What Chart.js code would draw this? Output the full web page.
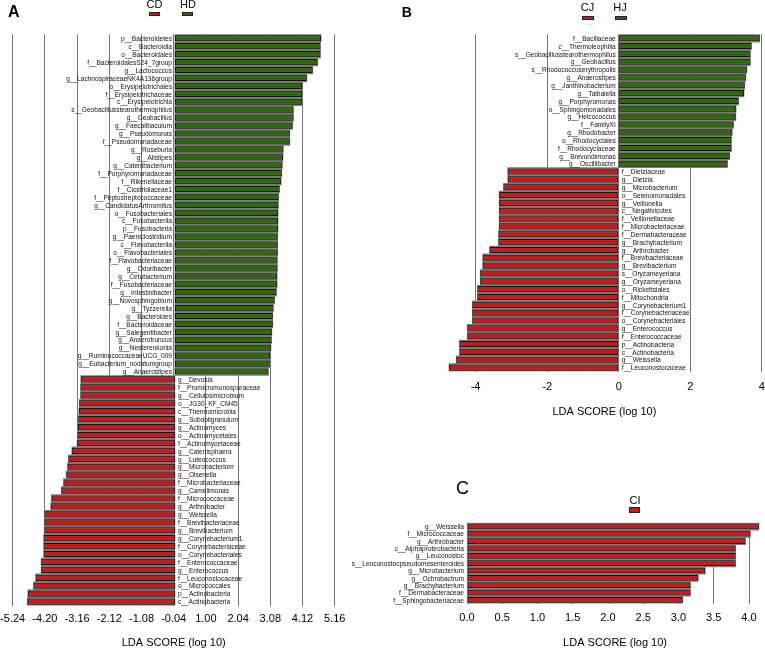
<!DOCTYPE html>
<html><head><meta charset="utf-8">
<script src="https://cdn.jsdelivr.net/npm/chart.js@4.4.1/dist/chart.umd.min.js"></script>
<style>
html,body{margin:0;padding:0;background:#fff;width:765px;height:650px;overflow:hidden;font-family:"Liberation Sans",Arial,sans-serif;}
canvas{position:absolute;}
.t{position:absolute;line-height:1;white-space:nowrap;color:#000;}
.c{text-align:center;width:40px;}
.box{position:absolute;border:1px solid #222;box-sizing:border-box;}
</style></head><body>
<canvas id="cA" width="372" height="650" style="left:0;top:0;width:372px;height:650px"></canvas>
<canvas id="cB" width="385" height="420" style="left:380px;top:0;width:385px;height:420px"></canvas>
<canvas id="cC" width="435" height="180" style="left:330px;top:470px;width:435px;height:180px"></canvas>

<div class="t" style="left:8px;top:3.9px;font-size:16px;font-weight:bold">A</div>
<div class="t c" style="left:134.5px;top:-0.7px;font-size:11px">CD</div>
<div class="box" style="left:149px;top:11.7px;width:10.5px;height:4px;background:#c8191c"></div>
<div class="t c" style="left:168px;top:-0.7px;font-size:11px">HD</div>
<div class="box" style="left:181.7px;top:11.7px;width:11px;height:4px;background:#2f6a0c"></div>

<div class="t" style="left:401.7px;top:4.9px;font-size:14px;font-weight:bold">B</div>
<div class="t c" style="left:567.5px;top:1.9px;font-size:11px">CJ</div>
<div class="box" style="left:582.3px;top:16px;width:11.4px;height:3.6px;background:#c8191c"></div>
<div class="t c" style="left:600px;top:1.9px;font-size:11px">HJ</div>
<div class="box" style="left:615px;top:16px;width:11.7px;height:3.6px;background:#2f6a0c"></div>

<div class="t" style="left:456px;top:479.4px;font-size:18px">C</div>
<div class="t c" style="left:615px;top:494.6px;font-size:11px">CI</div>
<div class="box" style="left:629.3px;top:507.3px;width:11px;height:5.7px;background:#c8191c"></div>

<script>
// ---------- Panel A (CD vs HD) ----------
const labelsA = [
 'p__Bacteroidetes','c__Bacteroidia','o__Bacteroidales','f__BacteroidalesS24_7group','g__Lactococcus',
 'g__LachnospiraceaeNK4A136group','o__Erysipelotrichales','f__Erysipelotrichaceae','c__Erysipelotrichia',
 's__Geobacillusstearothermophilus','g__Geobacillus','g__Faecalibaculum','g__Pseudomonas','f__Pseudomonadaceae',
 'g__Roseburia','g__Alistipes','g__Catenibacterium','f__Porphyromonadaceae','f__Rikenellaceae','f__Clostridiaceae1',
 'f__Peptostreptococcaceae','g__CandidatusArthromitus','o__Fusobacteriales','c__Fusobacteriia','p__Fusobacteria',
 'g__Paeniclostridium','c__Flavobacteriia','o__Flavobacteriales','f__Flavobacteriaceae','g__Odoribacter',
 'g__Cetobacterium','f__Fusobacteriaceae','g__Intestinibacter','g__Novosphingobium','g__Tyzzerella',
 'g__Bacteroides','f__Bacteroidaceae','g__Salegentibacter','g__Anaerotruncus','g__Nesterenkonia',
 'g__RuminococcaceaeUCG_009','g__Eubacterium_nodatumgroup','g__Anaerostipes',
 'g__Devosia','f__Promicromonosporaceae','g__Cellulosimicrobium','o__JG30_KF_CM45','c__Thermomicrobia',
 'g__Subdoligranulum','g__Actinomyces','o__Actinomycetales','f__Actinomycetaceae','g__Catenisphaera',
 'g__Luteococcus','g__Microbacterium','g__Olsenella','f__Microbacteriaceae','g__Camelimonas',
 'f__Micrococcaceae','g__Arthrobacter','g__Weissella','f__Brevibacteriaceae','g__Brevibacterium',
 'g__Corynebacterium1','f__Corynebacteriaceae','o__Corynebacteriales','f__Enterococcaceae','g__Enterococcus',
 'f__Leuconostocaceae','o__Micrococcales','p__Actinobacteria','c__Actinobacteria'
];
const valuesA = [
 4.72,4.70,4.70,4.61,4.45,4.26,4.11,4.11,4.11,3.83,3.83,3.80,3.71,3.71,3.50,3.49,3.47,3.45,3.43,3.38,
 3.35,3.34,3.33,3.33,3.33,3.32,3.32,3.32,3.31,3.31,3.30,3.30,3.28,3.22,3.18,3.16,3.16,3.13,3.12,3.10,
 3.07,3.06,3.02,
 -3.04,-3.05,-3.05,-3.09,-3.10,-3.12,-3.13,-3.15,-3.16,-3.33,-3.44,-3.47,-3.51,-3.60,-3.67,-3.99,-4.01,
 -4.22,-4.22,-4.22,-4.24,-4.24,-4.24,-4.32,-4.32,-4.50,-4.57,-4.75,-4.77
];
const ticksA = [-5.24,-4.20,-3.16,-2.12,-1.08,-0.04,1.00,2.04,3.08,4.12,5.16];

// ---------- Panel B (CJ vs HJ) ----------
const labelsB = [
 'f__Bacillaceae','c__Thermoleophilia','s__Geobacillusstearothermophilus','g__Geobacillus',
 's__Rhodococcuserythropolis','g__Anaerostipes','g__Janthinobacterium','g__Taibaiella','g__Porphyromonas',
 'o__Sphingomonadales','g__Helcococcus','f__FamilyXI','g__Rhodobacter','o__Rhodocyclales','f__Rhodocyclaceae',
 'g__Brevundimonas','g__Oscillibacter',
 'f__Dietziaceae','g__Dietzia','g__Microbacterium','o__Selenomonadales','g__Veillonella','c__Negativicutes',
 'f__Veillonellaceae','f__Microbacteriaceae','f__Dermabacteraceae','g__Brachybacterium','g__Arthrobacter',
 'f__Brevibacteriaceae','g__Brevibacterium','s__Oryzameyeriana','g__Oryzameyeriana','o__Rickettsiales',
 'f__Mitochondria','g__Corynebacterium1','f__Corynebacteriaceae','o__Corynebacteriales','g__Enterococcus',
 'f__Enterococcaceae','p__Actinobacteria','c__Actinobacteria','g__Weissella','f__Leuconostocaceae'
];
const valuesB = [
 3.94,3.71,3.68,3.68,3.58,3.55,3.52,3.50,3.35,3.28,3.27,3.21,3.17,3.15,3.15,3.10,3.04,
 -3.10,-3.10,-3.22,-3.34,-3.34,-3.34,-3.34,-3.34,-3.36,-3.36,-3.61,-3.80,-3.80,-3.87,-3.87,-3.95,-3.95,
 -4.09,-4.09,-4.09,-4.23,-4.23,-4.45,-4.45,-4.54,-4.74
];
const ticksB = [-4,-2,0,2,4];

// ---------- Panel C (CI) ----------
const labelsC = [
 'g__Weissella','f__Micrococcaceae','g__Arthrobacter','c__Alphaproteobacteria','g__Leuconostoc',
 's__Leuconostocpseudomesenteroides','g__Microbacterium','g__Ochrobactrum','g__Brachybacterium',
 'f__Dermabacteraceae','f__Sphingobacteriaceae'
];
const valuesC = [4.14,4.02,3.95,3.81,3.81,3.81,3.38,3.28,3.17,3.17,3.06];
const ticksC = [0,0.5,1.0,1.5,2.0,2.5,3.0,3.5,4.0];

const FONT = '"Liberation Sans", Arial, sans-serif';
Chart.defaults.font.family = FONT;
Chart.defaults.color = '#000';
const GREEN = '#2f6a0c', RED = '#c8191c';

const labelPlugin = {
  id: 'barLabels',
  afterDatasetsDraw(chart, args, opts) {
    const ctx = chart.ctx, meta = chart.getDatasetMeta(0), xs = chart.scales.x;
    const x0 = xs.getPixelForValue(0);
    const names = chart.data.labels, vals = chart.data.datasets[0].data;
    ctx.save();
    ctx.font = '8px ' + FONT;
    ctx.fillStyle = '#111';
    ctx.textBaseline = 'middle';
    meta.data.forEach((el, i) => {
      const t = names[i];
      const w = ctx.measureText(t).width * 0.82;
      let x, align;
      if (opts.side === 'axis') { x = chart.chartArea.left - 3; align = 'right'; }
      else if (vals[i] >= 0) { x = x0 - 3; align = 'right'; }
      else { x = x0 + 3; align = 'left'; }
      ctx.textAlign = align;
      ctx.fillText(t, x, el.y + 0.5, w);
    });
    ctx.restore();
  }
};

function panel(id, names, vals, ticks, cfg) {
  new Chart(document.getElementById(id), {
    type: 'bar',
    data: {
      labels: names,
      datasets: [
        { data: vals, backgroundColor: vals.map(v => (v < 0 || cfg.allRed) ? RED : GREEN),
          borderColor: '#141414', borderWidth: 1, borderSkipped: false,
          barPercentage: 0.78, categoryPercentage: 1, grouped: false, order: 0 },
        { data: vals, backgroundColor: '#7d7d7d', borderWidth: 0,
          barPercentage: 1, categoryPercentage: 1, grouped: false, order: 1 }
      ]
    },
    options: {
      indexAxis: 'y', responsive: false, animation: false, devicePixelRatio: 1,
      layout: { padding: cfg.pad },
      plugins: { legend: { display: false }, tooltip: { enabled: false }, barLabels: { side: cfg.side } },
      scales: {
        x: {
          type: 'linear', min: cfg.min, max: cfg.max, z: 1,
          afterBuildTicks: ax => { ax.ticks = ticks.map(v => ({ value: v })); },
          afterFit: ax => { ax.paddingLeft = 0; ax.paddingRight = 0; },
          ticks: { callback: v => cfg.fmt(v), font: { size: 11 }, color: '#000',
                   padding: cfg.tickPad, autoSkip: false, maxRotation: 0 },
          grid: { color: 'rgba(0,0,0,0.55)', lineWidth: 1, drawTicks: false },
          border: { display: false },
          title: { display: true, text: 'LDA SCORE (log 10)', font: { size: 11 }, color: '#000',
                   padding: { top: cfg.titlePad, bottom: 0 } }
        },
        y: { type: 'category', display: false, offset: true }
      }
    },
    plugins: [labelPlugin]
  });
}

panel('cA', labelsA, valuesA, ticksA, {
  min: -5.24, max: 5.16, side: 'zero', fmt: v => v.toFixed(2),
  pad: { left: 12.7, right: 37.3, top: 34.3, bottom: 0 }, tickPad: 7, titlePad: 4
});
panel('cB', labelsB, valuesB, ticksB, {
  min: -4.8, max: 4, side: 'zero', fmt: v => String(v),
  pad: { left: 66.9, right: 3.1, top: 34.3, bottom: 1.5 }, tickPad: 8.8, titlePad: 3
});
panel('cC', labelsC, valuesC, ticksC, {
  min: 0, max: 4.2, side: 'axis', allRed: true, fmt: v => v.toFixed(1),
  pad: { left: 137, right: 1.9, top: 52.7, bottom: 0 }, tickPad: 8, titlePad: 4
});
</script>
</body></html>
